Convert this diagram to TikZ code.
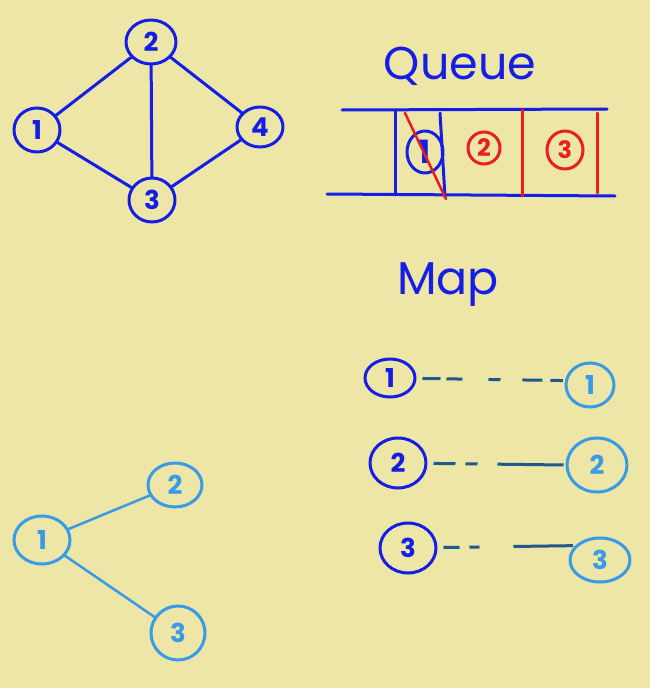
\documentclass[tikz,border=0pt]{standalone}
\usepackage{fontspec}
\setmainfont{Poppins}
\usetikzlibrary{shapes.geometric}
\definecolor{bg}{RGB}{237,230,166}
\definecolor{ink}{RGB}{20,30,230}
\definecolor{lightink}{RGB}{55,155,232}
\definecolor{redink}{RGB}{235,30,30}
\definecolor{teal}{RGB}{30,90,140}
\tikzset{
  pen/.style={line width=3pt, line cap=round, line join=round},
  bnode/.style={ellipse, draw=ink, pen, text=ink, inner sep=0pt, font=\fontsize{26}{28}\selectfont\bfseries},
  lnode/.style={ellipse, draw=lightink, pen, text=lightink, inner sep=0pt, font=\fontsize{26}{28}\selectfont\bfseries},
  rnode/.style={ellipse, draw=redink, pen, text=redink, inner sep=0pt, font=\fontsize{24}{26}\selectfont\bfseries},
  bedge/.style={draw=ink, pen},
  ledge/.style={draw=lightink, line width=2.5pt, line cap=round},
  mapline/.style={draw=teal, line width=3pt, shorten <=6pt, shorten >=2pt},
  title/.style={text=ink, font=\fontsize{46}{50}\selectfont}
}
\begin{document}
\begin{tikzpicture}[x=1pt,y=-1pt]
\fill[bg] (0,0) rectangle (650,688);
\useasboundingbox (0,0) rectangle (650,688);
% graph
\node[bnode, minimum width=50pt, minimum height=44pt] (g2) at (151,42) {2};
\node[bnode, minimum width=46pt, minimum height=44pt] (g1) at (37,130) {1};
\node[bnode, minimum width=46pt, minimum height=40pt] (g4) at (260,127) {4};
\node[bnode, minimum width=46pt, minimum height=44pt] (g3) at (152,200) {3};
\draw[bedge] (g1) -- (g2);
\draw[bedge] (g2) -- (g3);
\draw[bedge] (g2) -- (g4);
\draw[bedge] (g1) -- (g3);
\draw[bedge] (g3) -- (g4);
% queue
\node[title] (qt) at (460,66) {Queue};
\coordinate (qtl) at (342,110);
\coordinate (qtr) at (607,109);
\coordinate (qbl) at (327,194);
\coordinate (qbr) at (615,196);
\draw[ink, pen] (qtl) -- (qtr);
\draw[ink, pen] (qbl) -- (qbr);
\draw[ink, pen] (395,110) -- (395,195);
\draw[ink, pen] (440,113) -- (445,197);
\draw[redink, pen] (522,110) -- (522,196);
\draw[redink, pen] (597,113) -- (597,193);
\node[bnode, minimum width=36pt, minimum height=42pt, font=\fontsize{32}{34}\selectfont\bfseries] (q1) at (425,152) {1};
\node[rnode, minimum width=32pt, minimum height=32pt] (q2) at (484,148) {2};
\node[rnode, minimum width=36pt, minimum height=38pt] (q3) at (565,150) {3};
\draw[redink, line width=2.5pt, line cap=round] (405,113) -- (446,199);
% map
\node[title] (mt) at (448,285) {Map};
\node[bnode, minimum width=50pt, minimum height=38pt] (a1) at (390,378) {1};
\node[lnode, minimum width=48pt, minimum height=44pt] (b1) at (590,385) {1};
\node[bnode, minimum width=56pt, minimum height=50pt] (a2) at (398,463) {2};
\node[lnode, minimum width=60pt, minimum height=54pt] (b2) at (597,465) {2};
\node[bnode, minimum width=56pt, minimum height=50pt] (a3) at (408,548) {3};
\node[lnode, minimum width=60pt, minimum height=44pt] (b3) at (600,560) {3};
\draw[mapline, dash pattern=on 18pt off 6pt on 16pt off 26pt on 12pt off 22pt on 20pt off 8pt on 30pt] (a1) -- (b1.170);
\draw[mapline, dash pattern=on 22pt off 10pt on 12pt off 20pt on 200pt] (a2) -- (b2.180);
\draw[mapline, dash pattern=on 16pt off 10pt on 10pt off 34pt on 200pt] (a3) -- (b3.150);
% tree
\node[lnode, minimum width=56pt, minimum height=48pt] (t1) at (42,540) {1};
\node[lnode, minimum width=54pt, minimum height=44pt] (t2) at (175,485) {2};
\node[lnode, minimum width=54pt, minimum height=54pt] (t3) at (178,633) {3};
\draw[ledge] (t1) -- (t2);
\draw[ledge] (t1) -- (t3);
\end{tikzpicture}
\end{document}
